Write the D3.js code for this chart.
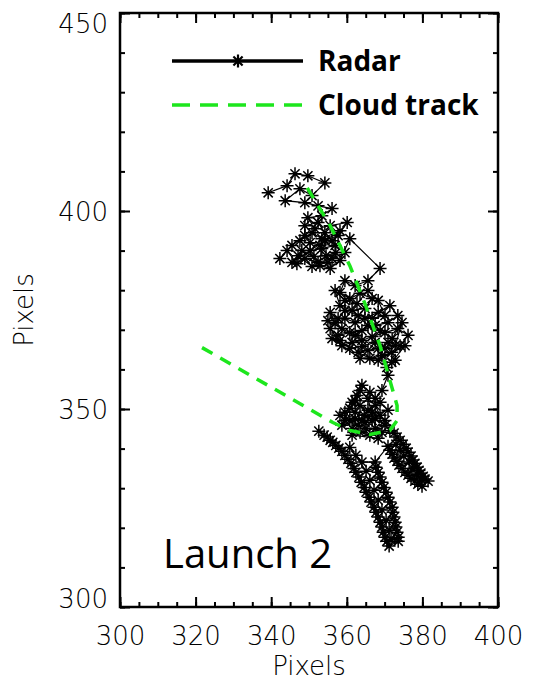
<!DOCTYPE html>
<html><head><meta charset="utf-8">
<script src="https://cdn.jsdelivr.net/npm/d3@7"></script>
<style>
body{margin:0;background:#fff;}
svg{display:block;}
.ax text{font-family:"DejaVu Sans",sans-serif;font-weight:200;font-size:26px;fill:#000;}
</style></head>
<body>
<svg id="c" width="548" height="681"></svg>
<script>
// ---- data ----
const xMajorTicks = [300, 320, 340, 360, 380, 400];
const yMajorTicks = [300, 350, 400, 450];
const xMinorTicks = d3.range(300, 401, 5);
const yMinorTicks = d3.range(300, 451, 10);

// radar track, in time order, split in segments
const topX = [339.2,344.2,346.3,349.7,354.2,350.8,347.6,343.7,348.9,352.4,356.1,353.4,349.7,351.6,355.6,360.1,357.7,354.2,350.8,347.6,350.3,353.4,356.9,359.5,356.1,352.4,348.9,346.8,344.2,342.3,345.5,348.9,348.9,352.4,354.2,356.1,352.9,350.3,348.1,351.3,354.5,357.1,355.0,350.8,347.1,345.5,358.2,353.4,352.9,355.6,358.2,360.8,368.8];
const topY = [404.6,406.4,409.4,408.9,407.1,403.9,405.6,402.6,402.1,401.3,400.6,398.8,398.3,395.5,396.3,397.1,393.8,392.5,394.5,392.5,390.0,390.5,391.3,389.5,388.0,387.0,388.0,386.7,390.0,388.0,391.3,393.8,396.3,397.1,394.5,392.5,391.3,392.0,390.0,388.5,388.7,389.5,387.0,386.0,388.7,387.0,395.0,393.0,386.2,385.5,387.5,393.0,385.5];
const midX = [365.6,362.2,359.5,358.2,360.8,363.5,366.7,364.8,361.4,358.2,356.9,359.5,362.7,365.6,368.3,370.1,366.7,363.0,359.5,357.7,355.0,358.7,362.2,365.6,368.8,372.0,374.6,372.8,370.1,367.5,364.0,360.8,358.2,356.1,363.5,368.3,375.4,371.9,355.6,356.9,359.5,362.2,364.8,368.3,371.4,373.5,370.9,367.5,364.0,360.8,357.7,355.6,358.7,361.4,364.0,366.7,370.1,373.5,376.2,374.1,370.9,368.3,365.6,363.0,366.1,369.3,371.9,372.8,370.6,370.9];
const midY = [382.4,381.2,382.4,379.4,377.9,379.2,377.9,375.4,374.9,376.1,379.9,377.4,376.6,379.9,377.4,373.6,372.9,373.6,374.9,372.9,372.3,370.3,368.6,371.1,369.8,367.8,371.8,366.0,365.3,366.8,365.8,365.3,367.3,367.8,362.8,362.3,366.0,361.8,374.4,371.8,372.9,371.8,372.9,374.4,376.1,373.6,371.8,371.1,369.8,369.3,368.6,370.3,366.0,366.8,367.3,368.3,369.3,370.3,368.6,366.0,366.8,365.3,364.8,364.3,362.8,363.5,364.3,362.3,360.5,358.5];
const lowX = [369.3,367.5,366.1,364.0,362.7,361.4,363.5,365.6,367.5,368.8,359.5,362.2,364.8,367.5,370.1,361.4,368.3,365.6,363.5,360.8,358.7,370.9,368.8,362.2,366.7,364.6,362.2,359.5,358.2,360.8,363.0,365.1,367.5,369.3,366.1,363.5,361.4,364.0,366.7,370.1,371.4];
const lowY = [354.7,352.7,354.2,356.0,353.4,351.7,350.9,349.7,350.9,348.4,347.1,347.6,346.6,347.6,345.9,343.4,342.6,352.7,354.7,350.2,345.9,349.7,351.7,352.2,347.1,348.4,349.2,349.2,348.4,347.1,345.9,345.1,345.1,344.1,343.4,344.1,345.1,347.1,349.2,347.1,344.6];
const bandRX = [372.5,373.3,374.1,374.9,375.7,376.2,377.0,377.5,378.0,378.6,379.1,379.6,380.2,380.7,381.5,
  379.9,379.6,378.8,378.0,378.6,377.0,376.2,377.5,375.4,374.6,376.5,373.8,373.3,375.1,372.5,372.0,374.1,371.4,373.0,370.9];
const bandRY = [343.9,342.9,342.1,341.1,340.1,339.1,338.1,337.1,336.3,335.3,334.5,333.8,333.0,332.3,331.8,
  330.5,332.3,331.0,331.8,333.5,332.5,333.3,335.0,334.0,335.0,336.6,335.8,336.8,338.1,337.6,338.6,339.6,339.6,341.1,340.6];
const bandLX = [367.5,364.0,362.4,360.8,365.1,367.7,368.3,366.1,368.8,369.3,367.2,369.8,370.4,368.3,370.9,371.4,369.3,372.0,372.2,370.4,372.5,372.8,371.2,373.0,373.3,371.7,373.6,373.6,
  371.2,370.6,370.1,369.6,369.3,368.8,368.3,367.7,367.2,366.4,365.9,365.1,364.6,363.8,363.2,362.4,361.9,361.1,360.3,359.5,358.7,357.9,357.1,356.3,355.6,354.8,354.0,352.6];
const bandLY = [336.6,336.6,338.3,340.3,334.3,335.3,334.0,332.0,332.8,331.5,329.5,330.2,329.0,327.0,327.7,326.5,324.5,325.2,323.9,321.9,322.7,321.4,319.4,320.2,318.9,317.1,317.6,316.6,
  315.4,316.6,317.6,318.9,320.2,321.4,322.7,323.9,325.2,326.5,327.7,329.0,330.2,331.5,332.8,334.0,335.0,336.3,337.3,338.3,339.3,340.1,340.8,341.6,342.1,342.9,343.4,344.4];

const radarX = [].concat(topX, midX, lowX, bandRX, bandLX);
const radarY = [].concat(topY, midY, lowY, bandRY, bandLY);

const cloudX = [321.7,356.3,360.8,366.1,371.4,373.3,373.3,371.4,368.8,364.8,360.8,355.6,352.1,348.4];
const cloudY = [365.5,346.6,344.6,343.6,344.6,347.1,350.9,357.2,366.0,376.6,386.2,396.3,401.8,407.6];

const legendLabels = ["Radar", "Cloud track"];
const annotation = "Launch 2";
const axisTitle = "Pixels";

// ---- chart ----
const svg = d3.select("#c");
const L = 120, R = 498, T = 13, B = 607;
const x = d3.scaleLinear().domain([300, 400]).range([L, R]);
const y = d3.scaleLinear().domain([300, 450]).range([B, T]);
const green = "#1de61d";

function tickAxis(axisFn, scale, vals, size, pad, fmt, tx, ty) {
  const g = svg.append("g").attr("class", "ax").attr("transform", `translate(${tx},${ty})`)
    .call(axisFn(scale).tickValues(vals).tickSizeInner(-size).tickSizeOuter(0).tickPadding(pad).tickFormat(fmt));
  g.select(".domain").remove();
  g.selectAll("line").attr("stroke", "#000").attr("stroke-width", 2);
  return g;
}
tickAxis(d3.axisBottom, x, xMinorTicks, 5, 0, () => "", 0, B);
tickAxis(d3.axisTop, x, xMinorTicks, 5, 0, () => "", 0, T);
tickAxis(d3.axisLeft, y, yMinorTicks, 5, 0, () => "", L, 0);
tickAxis(d3.axisRight, y, yMinorTicks, 5, 0, () => "", R, 0);
tickAxis(d3.axisBottom, x, xMajorTicks, 10, 20, d3.format("d"), 0, B);
tickAxis(d3.axisTop, x, xMajorTicks, 10, 0, () => "", 0, T);
const yl = tickAxis(d3.axisLeft, y, yMajorTicks, 10, 12, d3.format("d"), L, 0);
yl.selectAll("text").attr("dy", d => d === 450 ? "0.74em" : d === 300 ? "0em" : "0.36em");
tickAxis(d3.axisRight, y, yMajorTicks, 10, 0, () => "", R, 0);

svg.append("rect").attr("x", L).attr("y", T).attr("width", R - L).attr("height", B - T)
  .attr("fill", "none").attr("stroke", "#000").attr("stroke-width", 2.5);

svg.append("text").attr("x", (L + R) / 2).attr("y", 675).attr("text-anchor", "middle")
  .style("font-family", "DejaVu Sans").style("font-weight", 200).style("font-size", "26px").text(axisTitle);
svg.append("text").attr("transform", `translate(33,${(T + B) / 2}) rotate(-90)`).attr("text-anchor", "middle")
  .style("font-family", "DejaVu Sans").style("font-weight", 200).style("font-size", "26px").text(axisTitle);

// radar track
const radar = radarX.map((v, i) => [v, radarY[i]]);
svg.append("path").datum(radar)
  .attr("d", d3.line().x(d => x(d[0])).y(d => y(d[1])))
  .attr("fill", "none").attr("stroke", "#000").attr("stroke-width", 1.2);

function star(g, cx, cy, r, w) {
  const s = r * Math.SQRT1_2;
  g.append("path").attr("d",
    `M${cx - r},${cy}H${cx + r}M${cx},${cy - r}V${cy + r}M${cx - s},${cy - s}L${cx + s},${cy + s}M${cx - s},${cy + s}L${cx + s},${cy - s}`)
    .attr("stroke", "#000").attr("stroke-width", w).attr("fill", "none");
}
const stars = svg.append("g");
radar.forEach(d => star(stars, x(d[0]), y(d[1]), 6.5, 1.5));

// cloud track
const cloud = cloudX.map((v, i) => [v, cloudY[i]]);
svg.append("path").datum(cloud)
  .attr("d", d3.line().x(d => x(d[0])).y(d => y(d[1])))
  .attr("fill", "none").attr("stroke", green).attr("stroke-width", 3.5)
  .attr("stroke-dasharray", "12,9");

// legend
const lg = svg.append("g");
lg.append("line").attr("x1", 172).attr("x2", 303).attr("y1", 61).attr("y2", 61)
  .attr("stroke", "#000").attr("stroke-width", 3.5);
star(lg, 238, 61, 6.5, 2.2);
lg.append("line").attr("x1", 172).attr("x2", 303).attr("y1", 105).attr("y2", 105)
  .attr("stroke", green).attr("stroke-width", 3.5).attr("stroke-dasharray", "18,10");
lg.selectAll("text.lt").data(legendLabels).join("text").attr("class", "lt")
  .attr("x", 318).attr("y", (d, i) => 71 + i * 44)
  .style("font-family", "'Open Sans',sans-serif").style("font-weight", 700).style("font-size", "28px")
  .text(d => d);

svg.append("text").attr("x", 163).attr("y", 568)
  .style("font-family", "'Open Sans',sans-serif").style("font-size", "40px").text(annotation);
</script>
</body></html>
